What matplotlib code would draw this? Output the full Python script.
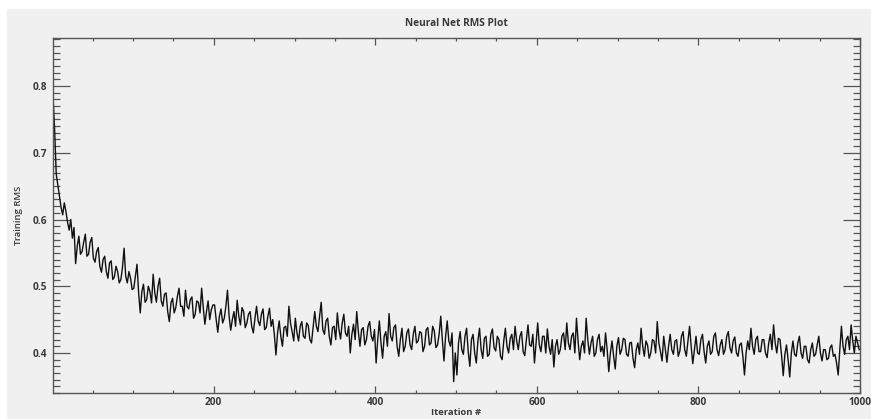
import numpy as np
import matplotlib
matplotlib.use("agg")
import matplotlib.pyplot as plt
from matplotlib.ticker import MultipleLocator

# Training RMS, one value every 2 iterations
iterations = np.arange(1, 1001, 2)
rms = [
    0.785, 0.735, 0.668, 0.652, 0.635, 0.618, 0.607, 0.625, 0.612, 0.596,
    0.584, 0.600, 0.572, 0.588, 0.534, 0.560, 0.575, 0.548, 0.552, 0.566,
    0.578, 0.545, 0.548, 0.566, 0.573, 0.542, 0.536, 0.552, 0.558, 0.530,
    0.521, 0.540, 0.545, 0.522, 0.512, 0.535, 0.538, 0.510, 0.514, 0.530,
    0.522, 0.505, 0.510, 0.528, 0.557, 0.515, 0.505, 0.522, 0.512, 0.495,
    0.497, 0.515, 0.533, 0.490, 0.460, 0.492, 0.503, 0.476, 0.480, 0.500,
    0.492, 0.475, 0.518, 0.490, 0.476, 0.500, 0.512, 0.478, 0.470, 0.488,
    0.490, 0.462, 0.447, 0.475, 0.482, 0.460, 0.468, 0.485, 0.497, 0.470,
    0.470, 0.455, 0.494, 0.470, 0.466, 0.480, 0.484, 0.452, 0.458, 0.478,
    0.476, 0.460, 0.497, 0.468, 0.443, 0.462, 0.478, 0.450, 0.465, 0.472,
    0.472, 0.450, 0.431, 0.455, 0.466, 0.445, 0.452, 0.470, 0.494, 0.455,
    0.434, 0.450, 0.462, 0.440, 0.479, 0.455, 0.442, 0.468, 0.462, 0.438,
    0.445, 0.458, 0.462, 0.440, 0.430, 0.452, 0.470, 0.448, 0.441, 0.458,
    0.466, 0.435, 0.438, 0.455, 0.467, 0.440, 0.450, 0.428, 0.397, 0.430,
    0.448, 0.425, 0.410, 0.438, 0.440, 0.425, 0.470, 0.445, 0.432, 0.418,
    0.452, 0.430, 0.418, 0.440, 0.447, 0.425, 0.422, 0.445, 0.441, 0.420,
    0.415, 0.438, 0.462, 0.440, 0.432, 0.455, 0.476, 0.435, 0.428, 0.448,
    0.452, 0.425, 0.412, 0.438, 0.440, 0.420, 0.460, 0.435, 0.421, 0.445,
    0.458, 0.430, 0.425, 0.440, 0.400, 0.428, 0.443, 0.420, 0.462, 0.432,
    0.410, 0.435, 0.438, 0.412, 0.420, 0.440, 0.447, 0.425, 0.418, 0.435,
    0.385, 0.420, 0.448, 0.415, 0.392, 0.425, 0.432, 0.410, 0.459, 0.425,
    0.418, 0.438, 0.442, 0.410, 0.395, 0.420, 0.437, 0.402, 0.410, 0.430,
    0.436, 0.412, 0.405, 0.428, 0.440, 0.415, 0.418, 0.432, 0.430, 0.402,
    0.410, 0.435, 0.438, 0.412, 0.415, 0.440, 0.433, 0.408, 0.412, 0.428,
    0.455, 0.420, 0.388, 0.425, 0.448, 0.418, 0.410, 0.430, 0.357, 0.400,
    0.367, 0.415, 0.432, 0.405, 0.398, 0.425, 0.437, 0.402, 0.380, 0.420,
    0.428, 0.400, 0.385, 0.418, 0.437, 0.405, 0.392, 0.422, 0.425, 0.395,
    0.398, 0.428, 0.436, 0.408, 0.403, 0.425, 0.420, 0.395, 0.390, 0.418,
    0.437, 0.410, 0.400, 0.422, 0.428, 0.405, 0.440, 0.418, 0.405, 0.425,
    0.432, 0.402, 0.396, 0.420, 0.442, 0.412, 0.410, 0.428, 0.385, 0.415,
    0.445, 0.412, 0.402, 0.425, 0.425, 0.400, 0.436, 0.410, 0.398, 0.420,
    0.379, 0.410, 0.420, 0.398, 0.405, 0.425, 0.430, 0.405, 0.445, 0.415,
    0.405, 0.425, 0.430, 0.400, 0.452, 0.418, 0.390, 0.410, 0.418, 0.400,
    0.452, 0.420, 0.398, 0.415, 0.425, 0.395, 0.400, 0.420, 0.428, 0.402,
    0.410, 0.395, 0.430, 0.405, 0.372, 0.400, 0.418, 0.395, 0.376, 0.410,
    0.423, 0.398, 0.405, 0.422, 0.420, 0.398, 0.395, 0.415, 0.416, 0.392,
    0.378, 0.405, 0.415, 0.398, 0.437, 0.410, 0.395, 0.418, 0.412, 0.392,
    0.400, 0.420, 0.418, 0.400, 0.447, 0.415, 0.402, 0.388, 0.425, 0.405,
    0.386, 0.410, 0.428, 0.405, 0.398, 0.418, 0.420, 0.395, 0.403, 0.425,
    0.432, 0.405, 0.395, 0.418, 0.440, 0.410, 0.384, 0.405, 0.425, 0.400,
    0.398, 0.420, 0.428, 0.402, 0.385, 0.410, 0.418, 0.398, 0.402, 0.425,
    0.430, 0.405, 0.396, 0.412, 0.420, 0.398, 0.405, 0.425, 0.432, 0.408,
    0.400, 0.418, 0.424, 0.400, 0.395, 0.412, 0.415, 0.395, 0.367, 0.400,
    0.418, 0.405, 0.437, 0.410, 0.398, 0.420, 0.425, 0.402, 0.402, 0.420,
    0.420, 0.400, 0.393, 0.415, 0.428, 0.405, 0.442, 0.415, 0.400, 0.422,
    0.420, 0.395, 0.366, 0.398, 0.412, 0.390, 0.364, 0.400, 0.418, 0.398,
    0.395, 0.415, 0.425, 0.400, 0.392, 0.410, 0.410, 0.390, 0.385, 0.405,
    0.415, 0.395, 0.398, 0.412, 0.425, 0.400, 0.388, 0.405, 0.405, 0.390,
    0.392, 0.408, 0.412, 0.395, 0.398, 0.385, 0.367, 0.405, 0.440, 0.410,
    0.398, 0.420, 0.425, 0.405, 0.442, 0.418, 0.400, 0.425, 0.415, 0.405,
]

plt.rcParams["font.family"] = ["Open Sans", "DejaVu Sans"]
txt = "#3a3a3a"
bg = "#f0f0f0"

fig = plt.figure(figsize=(8.71, 4.19), dpi=100, facecolor="white")
# grey window panel behind the plot
fig.patches.append(plt.Rectangle((7 / 871, 0), 1, 1 - 9 / 419,
                                 transform=fig.transFigure, color=bg,
                                 zorder=-10))
ax = fig.add_axes([53 / 871, 1 - 393 / 419, 807 / 871, 355 / 419])
ax.set_facecolor(bg)

ax.plot(iterations, rms, color="#111111", lw=1.0)

ax.set_xlim(1, 1000)
ax.set_ylim(0.34, 0.872)
ax.xaxis.set_major_locator(MultipleLocator(200))
ax.xaxis.set_minor_locator(MultipleLocator(50))
ax.yaxis.set_major_locator(MultipleLocator(0.1))
ax.yaxis.set_minor_locator(MultipleLocator(0.01))

for s in ax.spines.values():
    s.set_color("#555555")
    s.set_linewidth(1.0)
ax.tick_params(which="both", direction="in", top=True, right=True,
               colors="#555555", labelcolor=txt, labelsize=7.3)
ax.tick_params(axis="y", which="major", length=12, width=0.9, pad=4)
ax.tick_params(axis="y", which="minor", length=5, width=0.9)
ax.tick_params(axis="x", which="major", length=5, width=0.9, pad=3)
ax.tick_params(axis="x", which="minor", length=2.5, width=0.9)
for lab in ax.get_xticklabels() + ax.get_yticklabels():
    lab.set_fontweight("bold")

ax.set_title("Neural Net RMS Plot", fontsize=7.3, fontweight="bold",
             color=txt, pad=9)
ax.set_xlabel("Iteration #", fontsize=6.8, fontweight="bold",
              color=txt, labelpad=0)
ax.set_ylabel("Training RMS", fontsize=6.8, fontweight="semibold",
              color=txt, labelpad=7)

fig.savefig("out.png", dpi=100, facecolor=fig.get_facecolor())
